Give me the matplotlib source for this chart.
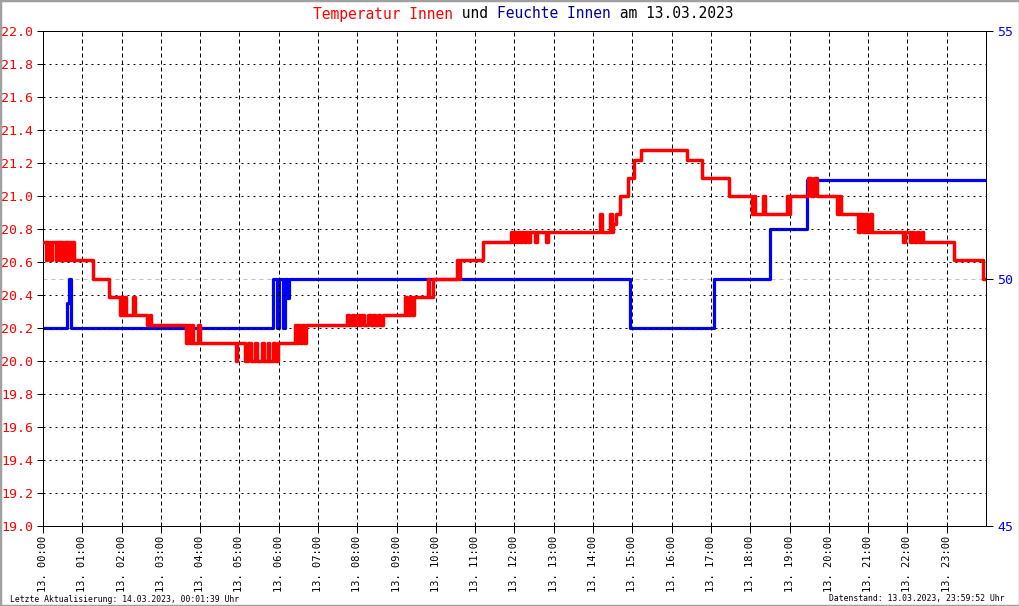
import matplotlib
matplotlib.use("Agg")
import matplotlib.pyplot as plt
from matplotlib.patches import Rectangle

# Temperatur Innen (step data, hours since 13.03.2023 00:00)
temp_hours = [0.00, 0.08, 0.11, 0.19, 0.22, 0.32, 0.35, 0.42, 0.44, 0.48, 0.50, 0.54, 0.56, 0.60,
              0.62, 0.66, 0.68, 0.72, 0.74, 0.78, 1.27, 1.68, 1.96, 2.00, 2.04, 2.08, 2.12, 2.30,
              2.35, 2.65, 2.72, 2.76, 3.64, 3.70, 3.74, 3.78, 3.82, 3.94, 3.99, 4.91, 4.95, 5.14,
              5.22, 5.30, 5.40, 5.45, 5.58, 5.62, 5.72, 5.76, 5.86, 5.90, 5.98, 6.41, 6.46, 6.50,
              6.55, 6.60, 6.64, 6.69, 7.74, 7.80, 7.86, 7.92, 7.98, 8.05, 8.10, 8.16, 8.28, 8.34,
              8.40, 8.46, 8.52, 8.58, 8.65, 9.21, 9.27, 9.33, 9.38, 9.44, 9.80, 9.83, 9.93, 10.54,
              10.58, 10.62, 11.20, 11.91, 11.95, 12.00, 12.04, 12.10, 12.14, 12.20, 12.24, 12.30,
              12.35, 12.39, 12.52, 12.57, 12.80, 12.85, 14.18, 14.23, 14.43, 14.48, 14.51, 14.58,
              14.69, 14.89, 15.04, 15.22, 16.39, 16.77, 17.46, 18.05, 18.09, 18.13, 18.33, 18.38,
              18.94, 18.98, 19.02, 19.47, 19.55, 19.62, 19.70, 20.21, 20.26, 20.30, 20.74, 20.80,
              20.86, 20.92, 20.98, 21.04, 21.10, 21.89, 21.94, 22.07, 22.12, 22.18, 22.24, 22.30,
              22.36, 22.40, 23.19, 23.92, 24.00]
temp_values = [20.72, 20.61, 20.72, 20.61, 20.72, 20.61, 20.72, 20.61, 20.72, 20.61, 20.72, 20.61, 20.72, 20.61,
               20.72, 20.61, 20.72, 20.61, 20.72, 20.61, 20.50, 20.39, 20.28, 20.39, 20.28, 20.39, 20.28, 20.39,
               20.28, 20.22, 20.28, 20.22, 20.11, 20.22, 20.11, 20.22, 20.11, 20.22, 20.11, 20.00, 20.11, 20.00,
               20.11, 20.00, 20.11, 20.00, 20.11, 20.00, 20.11, 20.00, 20.11, 20.00, 20.11, 20.22, 20.11, 20.22,
               20.11, 20.22, 20.11, 20.22, 20.28, 20.22, 20.28, 20.22, 20.28, 20.22, 20.28, 20.22, 20.28, 20.22,
               20.28, 20.22, 20.28, 20.22, 20.28, 20.39, 20.28, 20.39, 20.28, 20.39, 20.50, 20.39, 20.50, 20.61,
               20.50, 20.61, 20.72, 20.78, 20.72, 20.78, 20.72, 20.78, 20.72, 20.78, 20.72, 20.78,
               20.72, 20.78, 20.72, 20.78, 20.72, 20.78, 20.89, 20.78, 20.89, 20.78, 20.83, 20.89,
               21.00, 21.11, 21.22, 21.28, 21.22, 21.11, 21.00, 20.89, 21.00, 20.89, 21.00, 20.89,
               21.00, 20.89, 21.00, 21.11, 21.00, 21.11, 21.00, 20.89, 21.00, 20.89, 20.78, 20.89,
               20.78, 20.89, 20.78, 20.89, 20.78, 20.72, 20.78, 20.72, 20.78, 20.72, 20.78, 20.72,
               20.78, 20.72, 20.61, 20.50, 20.50]

# Feuchte Innen
hum_hours = [0.00, 0.62, 0.66, 0.71, 5.86, 5.96, 6.00, 6.10, 6.15, 6.22, 6.26, 14.93, 17.07, 18.50, 19.45, 24.00]
hum_values = [49, 49.5, 50, 49, 50, 49, 50, 49, 50, 49.6, 50, 49, 50, 51, 52, 52]

hour_labels = ["13. %02d:00" % h for h in range(24)]
temp_ticks = [19.0, 19.2, 19.4, 19.6, 19.8, 20.0, 20.2, 20.4, 20.6, 20.8, 21.0, 21.2, 21.4, 21.6, 21.8, 22.0]
hum_ticks = [45, 50, 55]

plt.rcParams['font.family'] = ['DejaVu Sans Mono']

W, H = 1020, 606
fig = plt.figure(figsize=(W / 100, H / 100), dpi=100)
ax = fig.add_axes([43 / W, 80 / H, 943 / W, 495 / H])
ax2 = ax.twinx()
# red on top of the grid, blue under it
ax.set_zorder(ax2.get_zorder() + 1)
ax.patch.set_visible(False)

ax.step(temp_hours, temp_values, where='post', color='#ff0000', lw=2.5, zorder=3)
ax2.step(hum_hours, hum_values, where='post', color='#0000ff', lw=2.3, zorder=3)
ax2.axhline(50, color='#c0c0c0', lw=0.72, ls=(0, (4, 4)), zorder=1)

ax.set_xlim(0, 24)
ax.set_ylim(19, 22)
ax2.set_ylim(45, 55)

ax.set_xticks(range(24))
ax.set_xticklabels(hour_labels, rotation=90, fontsize=7.5)
ax.set_yticks(temp_ticks)
ax.set_yticklabels(["%.1f" % t for t in temp_ticks], fontsize=9.5, color='#ff0000')
ax2.set_yticks(hum_ticks)
ax2.set_yticklabels([str(t) for t in hum_ticks], fontsize=9.5, color='#0000ff')

ax.yaxis.grid(True, color='black', lw=0.72, ls=(0, (2, 4)))
ax.xaxis.grid(True, color='black', lw=0.72, ls=(0, (4, 3)))
ax.set_axisbelow(True)

ax.tick_params(axis='y', length=4, width=0.72, pad=3)
ax.tick_params(axis='x', length=5, width=0.72, pad=2)
ax2.tick_params(axis='y', length=5, width=0.72, pad=3)
for a in (ax, ax2):
    for s in a.spines.values():
        s.set_linewidth(0.72)
        s.set_color('black')

# title in pieces with different colours
title_parts = [("Temperatur Innen", '#ff0000'), (" und ", 'black'),
               ("Feuchte Innen", '#00009c'), (" am 13.03.2023", 'black')]
fs = 10.5
cw = fs * 100 / 72 * 0.602
x0 = 313
for txt, col in title_parts:
    fig.text(x0 / W, 1 - 14 / H, txt, color=col, fontsize=fs, va='center', ha='left')
    x0 += len(txt) * cw

fig.text(10 / W, 1 - 599 / H, "Letzte Aktualisierung: 14.03.2023, 00:01:39 Uhr", fontsize=5.9, va='center')
fig.text(1005 / W, 1 - 599 / H, "Datenstand: 13.03.2023, 23:59:52 Uhr", fontsize=5.9, va='center', ha='right')

fig.patches.append(Rectangle((0, 0), 1, 1, transform=fig.transFigure, fill=False,
                             edgecolor='#a0a0a0', lw=2.5))

fig.savefig('out.png', dpi=100)
